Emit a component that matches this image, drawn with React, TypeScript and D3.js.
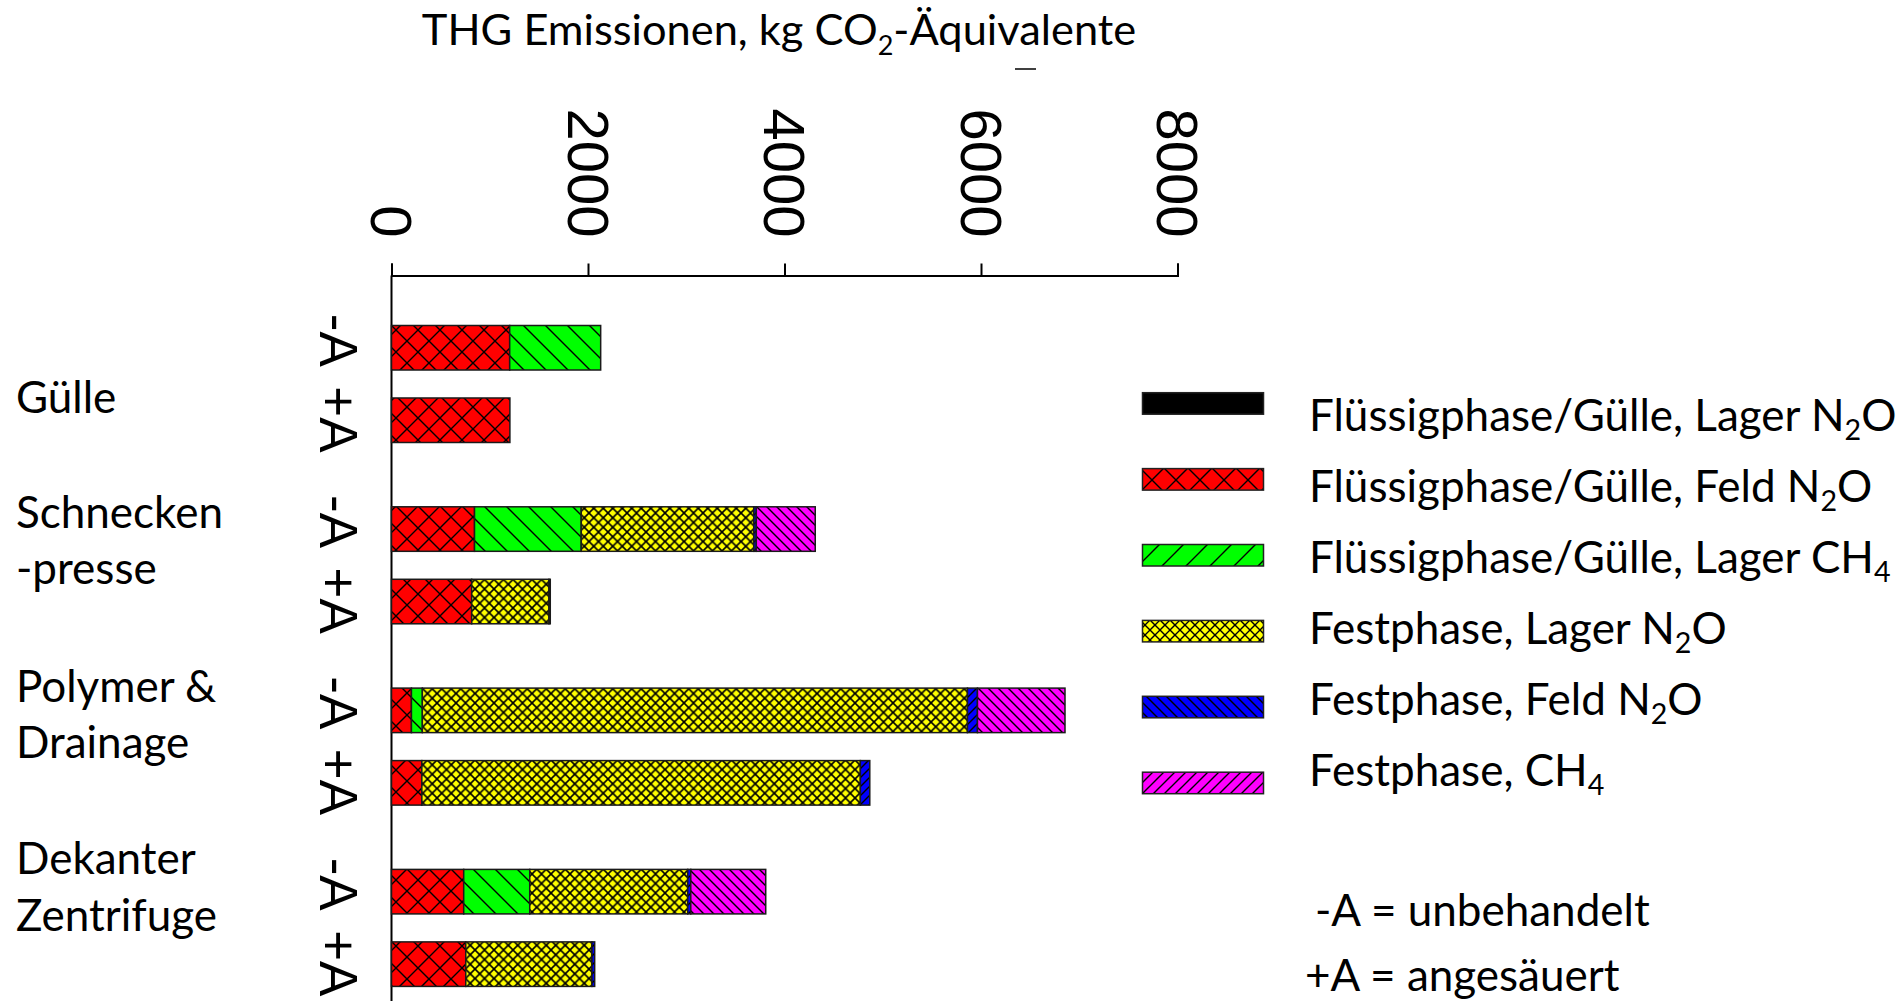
import React, { useEffect, useRef } from "react";
import * as d3 from "d3";

// ---------- data ----------
const groups = ["Gülle", "Schnecken-presse", "Polymer & Drainage", "Dekanter Zentrifuge"];
const groupLabelLines = [["Gülle"], ["Schnecken", "-presse"], ["Polymer &", "Drainage"], ["Dekanter", "Zentrifuge"]];
const treatments = ["-A", "+A"];

const seriesKeys = ["flLagerN2O", "flFeldN2O", "flLagerCH4", "fsLagerN2O", "fsFeldN2O", "fsCH4"];
const seriesLabels = [
  "Flüssigphase/Gülle, Lager N₂O",
  "Flüssigphase/Gülle, Feld N₂O",
  "Flüssigphase/Gülle, Lager CH₄",
  "Festphase, Lager N₂O",
  "Festphase, Feld N₂O",
  "Festphase, CH₄",
];
// order of values: Gülle -A, Gülle +A, Schnecken -A, +A, Polymer -A, +A, Dekanter -A, +A
const flLagerN2O = [0, 0, 0, 0, 0, 0, 0, 0];
const flFeldN2O = [1203, 1205, 845, 816, 203, 309, 735, 756];
const flLagerCH4 = [926, 0, 1086, 0, 111, 0, 672, 0];
const fsLagerN2O = [0, 0, 1757, 787, 5548, 4463, 1608, 1284];
const fsFeldN2O = [0, 0, 25, 13, 102, 96, 31, 28];
const fsCH4 = [0, 0, 600, 0, 891, 0, 763, 0];

const xTicks = [0, 2000, 4000, 6000, 8000];
const xTitle = "THG Emissionen, kg CO₂-Äquivalente";
const noteLines = ["-A = unbehandelt", "+A = angesäuert"];

// ---------- styles ----------
const TEXT_FONT = "Lato, sans-serif";
const NUM_FONT = "'Liberation Sans', Arial, sans-serif";
const TXT = 44;

const seriesStyle = [
  { fill: "#000000", bar: null, leg: null },
  { fill: "#ff0000", bar: { size: 22, dirs: ["b", "f"] }, leg: { size: 24, dirs: ["b", "f"] } },
  { fill: "#00ff00", bar: { size: 22, dirs: ["b"] }, leg: { size: 24, dirs: ["f"] } },
  { fill: "#ffff00", bar: { size: 9.5, dirs: ["b", "f"] }, leg: { size: 10, dirs: ["b", "f"] } },
  { fill: "#0000ff", bar: { size: 9, dirs: ["f"] }, leg: { size: 10, dirs: ["b"] } },
  { fill: "#ff00ff", bar: { size: 10, dirs: ["b"] }, leg: { size: 11, dirs: ["f"] } },
];

function hatchPath(s: number, dir: string) {
  if (dir === "b") {
    return `M-1,-1L${s + 1},${s + 1}M${s - 1},-1L${s + 1},1M-1,${s - 1}L1,${s + 1}`;
  }
  return `M-1,${s + 1}L${s + 1},-1M-1,1L1,-1M${s - 1},${s + 1}L${s + 1},${s - 1}`;
}

function Pattern({ id, fill, spec, sw }: any) {
  return (
    <pattern id={id} patternUnits="userSpaceOnUse" width={spec.size} height={spec.size}>
      <rect width={spec.size} height={spec.size} fill={fill} />
      {spec.dirs.map((d: string) => (
        <path key={d} d={hatchPath(spec.size, d)} stroke="#000" strokeWidth={sw} fill="none" />
      ))}
    </pattern>
  );
}

function SubText({ text, subSize, subShift }: any) {
  const parts: any[] = [];
  let buf = "";
  const subMap: any = { "₂": "2", "₄": "4" };
  Array.from(text as string).forEach((c) => {
    if (subMap[c]) {
      if (buf) parts.push({ t: buf, sub: false });
      buf = "";
      parts.push({ t: subMap[c], sub: true });
    } else buf += c;
  });
  if (buf) parts.push({ t: buf, sub: false });
  return (
    <>
      {parts.map((p, i) =>
        p.sub ? (
          <tspan key={i} fontSize={subSize} dy={subShift}>{p.t}</tspan>
        ) : (
          <tspan key={i} dy={i > 0 && parts[i - 1].sub ? -subShift : 0}>{p.t}</tspan>
        )
      )}
    </>
  );
}

export default function App() {
  const axisRef = useRef<SVGGElement>(null);

  const x = d3.scaleLinear().domain([0, 8000]).range([391.5, 1177.5]);
  const yGroup = d3.scaleBand().domain(groups).range([325.5, 986.4]).paddingInner(0.3547).paddingOuter(0);
  const yTreat = d3.scaleBand().domain(treatments).range([0, yGroup.bandwidth()]).paddingInner(0.386).paddingOuter(0);

  const rows = groups.flatMap((g, gi) =>
    treatments.map((t, ti) => {
      const i = gi * 2 + ti;
      return {
        group: g,
        treat: t,
        flLagerN2O: flLagerN2O[i],
        flFeldN2O: flFeldN2O[i],
        flLagerCH4: flLagerCH4[i],
        fsLagerN2O: fsLagerN2O[i],
        fsFeldN2O: fsFeldN2O[i],
        fsCH4: fsCH4[i],
      };
    })
  );
  const stacked = d3.stack<any>().keys(seriesKeys)(rows);

  useEffect(() => {
    if (!axisRef.current) return;
    const g = d3.select(axisRef.current);
    g.selectAll("*").remove();
    g.call(d3.axisTop(x).tickValues(xTicks).tickSize(12).tickSizeOuter(12).tickFormat(d3.format("d")) as any);
    g.select(".domain").attr("stroke", "#000").attr("stroke-width", 2);
    g.selectAll(".tick line").attr("stroke", "#000").attr("stroke-width", 2);
    g.selectAll(".tick text")
      .attr("font-family", NUM_FONT)
      .attr("font-size", 58)
      .attr("fill", "#000")
      .attr("text-anchor", "end")
      .attr("dy", "0.36em")
      .attr("y", 0)
      .attr("x", 0)
      .attr("transform", "translate(0,-38) rotate(90)");
  }, []);

  const groupLabelY = [412.5, 527.7, 701.7, 874.3];
  const legX = 1142.5;
  const legTextX = 1309;

  return (
    <svg width={1903} height={1007} style={{ position: "absolute", left: 0, top: 0, background: "#fff" }}>
      <defs>
        {seriesStyle.map((s, i) =>
          s.bar ? <Pattern key={"b" + i} id={"bar" + i} fill={s.fill} spec={s.bar} sw={i === 3 ? 1.6 : 1.4} /> : null
        )}
        {seriesStyle.map((s, i) =>
          s.leg ? <Pattern key={"l" + i} id={"leg" + i} fill={s.fill} spec={s.leg} sw={1.4} /> : null
        )}
      </defs>
      <rect width={1903} height={1007} fill="#fff" />

      {/* title */}
      <text x={779} y={45} textAnchor="middle" fontFamily={TEXT_FONT} fontSize={43.4} fill="#000">
        <SubText text={xTitle} subSize={27} subShift={10} />
      </text>
      <line x1={1015} x2={1036} y1={69} y2={69} stroke="#000" strokeWidth={1.5} />

      {/* x axis */}
      <g ref={axisRef} transform="translate(0,275.5)" />
      {/* y axis line */}
      <line x1={x(0)} x2={x(0)} y1={275.5} y2={1001} stroke="#000" strokeWidth={2} />

      {/* bars */}
      {stacked.map((layer, si) => (
        <g key={layer.key}>
          {layer.map((d: any, ri: number) => {
            const w = x(d[1]) - x(d[0]);
            if (w <= 0) return null;
            const r = d.data;
            const y = (yGroup(r.group) as number) + (yTreat(r.treat) as number);
            return (
              <rect
                key={ri}
                x={x(d[0])}
                y={y}
                width={w}
                height={yTreat.bandwidth()}
                fill={seriesStyle[si].bar ? `url(#bar${si})` : seriesStyle[si].fill}
                stroke="#1a1a1a"
                strokeWidth={1.5}
              />
            );
          })}
        </g>
      ))}

      {/* treatment labels */}
      {rows.map((r, i) => {
        const cy = (yGroup(r.group) as number) + (yTreat(r.treat) as number) + yTreat.bandwidth() / 2;
        return (
          <text
            key={i}
            transform={`translate(320,${cy - 34}) rotate(90)`}
            fontFamily={NUM_FONT}
            fontSize={53}
            fill="#000"
          >
            {r.treat}
          </text>
        );
      })}

      {/* group labels */}
      {groupLabelLines.map((lines, gi) => (
        <text key={gi} fontFamily={TEXT_FONT} fontSize={TXT} fill="#000">
          {lines.map((l, li) => (
            <tspan key={li} x={16} y={groupLabelY[gi] + li * 56.5}>{l}</tspan>
          ))}
        </text>
      ))}

      {/* legend */}
      {seriesLabels.map((lab, i) => (
        <g key={i}>
          <rect
            x={legX}
            y={392.7 + i * 75.9}
            width={121}
            height={21.5}
            fill={seriesStyle[i].leg ? `url(#leg${i})` : seriesStyle[i].fill}
            stroke="#222"
            strokeWidth={1.5}
          />
          <text x={legTextX} y={431 + i * 71} fontFamily={TEXT_FONT} fontSize={TXT} fill="#000">
            <SubText text={lab} subSize={TXT * 0.65} subShift={9} />
          </text>
        </g>
      ))}

      {/* notes */}
      <text x={1315} y={926} fontFamily={TEXT_FONT} fontSize={TXT} fill="#000">{noteLines[0]}</text>
      <text x={1305} y={991} fontFamily={TEXT_FONT} fontSize={TXT} fill="#000">{noteLines[1]}</text>
    </svg>
  );
}
